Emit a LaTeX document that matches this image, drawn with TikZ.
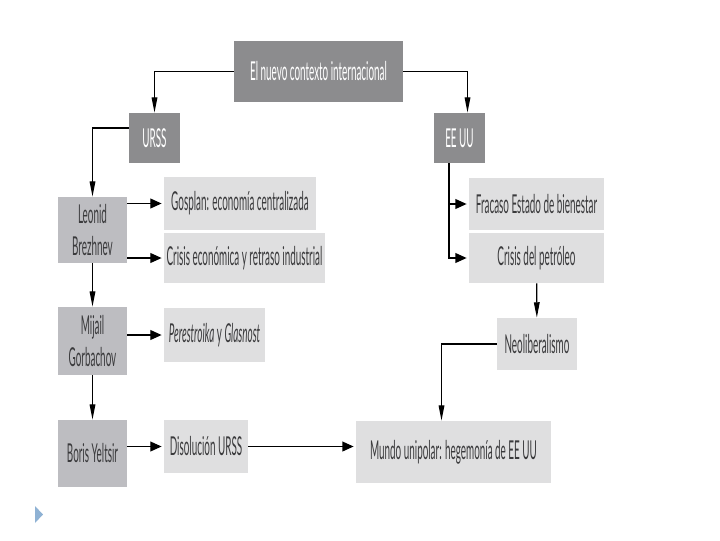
\documentclass[tikz,border=0pt]{standalone}
\usepackage{fontspec}
\setmainfont[FakeStretch=0.38]{Lato}
\usetikzlibrary{arrows.meta}

\definecolor{darkbox}{HTML}{8C8C8E}
\definecolor{midbox}{HTML}{BDBDC1}
\definecolor{lightbox}{HTML}{DFDFE0}
\definecolor{boxtext}{HTML}{3A3A3C}
\definecolor{bullet}{HTML}{8FB2D4}

\begin{document}
\begin{tikzpicture}[x=0.025cm, y=-0.025cm,
  font=\fontsize{18.5}{23.4}\selectfont,
  sz/.style 2 args={minimum width=#1*0.025cm, minimum height=#2*0.025cm, inner sep=0pt},
  head/.style={fill=darkbox, text=white},
  person/.style={fill=midbox, text=boxtext, align=center},
  fact/.style={fill=lightbox, text=boxtext},
  link/.style={line width=0.9pt, black},
  harr/.style={link, -{Triangle[length=8pt,width=7pt]}, shorten >=1.5pt},
  varr/.style={link, -{Triangle[length=11pt,width=4pt]}},
]
  \useasboundingbox (0,0) rectangle (720,540);

  % ── Top level ──────────────────────────────────────────────────────
  \node[head, sz={169}{61}] (context) at (318.5,71.5) {El nuevo contexto internacional};
  \node[head, sz={51}{50}]  (urss)    at (154.5,138)  {URSS};
  \node[head, sz={51}{50}]  (eeuu)    at (459.5,138)  {EE UU};

  \draw[varr] (context.west) -| (urss.north);
  \draw[varr] (context.east) -| ([xshift=0.2cm]eeuu.north);

  % ── URSS column: leaders ───────────────────────────────────────────
  \node[person, sz={69}{66}] (brezhnev)  at (92.5,230)   {Leonid\\Brezhnev};
  \node[person, sz={69}{68}] (gorbachov) at (92.5,341)   {Mijail\\Gorbachov};
  \node[person, sz={69}{67}] (yeltsin)   at (92.5,453.5) {Boris Yeltsir};

  \draw[varr] ([yshift=0.25cm]urss.west) -| (brezhnev.north);
  \draw[varr] (brezhnev) -- (gorbachov);
  \draw[varr] (gorbachov) -- (yeltsin);

  % what happened under each of them
  \node[fact, sz={152}{53}] (gosplan)  at (240,203.5)  {Gosplan: economía centralizada};
  \node[fact, sz={161}{50}] (crisis)   at (244.5,258)  {Crisis económica y retraso industrial};
  \node[fact, sz={101}{54}] (reforms)  at (214.5,335)  {\textit{Perestroika} y \textit{Glasnost}};
  \node[fact, sz={84}{53}]  (breakup)  at (206,446.5)  {Disolución URSS};

  \draw[harr] (brezhnev.east |- gosplan) -- (gosplan.west);
  \draw[harr] (brezhnev.east |- crisis) -- (crisis.west);
  \draw[harr] (gorbachov.east |- reforms) -- (reforms.west);
  \draw[harr] (yeltsin.east |- breakup) -- (breakup.west);

  % ── EE UU column ───────────────────────────────────────────────────
  \node[fact, sz={135}{52}] (welfare) at (536.5,204) {Fracaso Estado de bienestar};
  \node[fact, sz={135}{50}] (oil)     at (536.5,258) {Crisis del petróleo};
  \node[fact, sz={80}{52}]  (neolib)  at (537,344)   {Neoliberalismo};

  \draw[harr] ([xshift=-0.26cm]eeuu.south) |- (welfare.west);
  \draw[harr] ([xshift=-0.26cm]eeuu.south) |- (oil.west);
  \draw[varr] (oil) -- (neolib);

  % ── Outcome ────────────────────────────────────────────────────────
  \node[fact, sz={195}{62}] (unipolar) at (453.5,452) {Mundo unipolar: hegemonía de EE UU};

  \draw[harr] (breakup.east) -- (unipolar.west |- breakup.east);
  \draw[varr] (neolib.west) -| ([xshift=-0.3cm]unipolar.north);

  % slide bullet
  \fill[bullet] (35,506) -- (43,514.5) -- (35,523) -- cycle;

\end{tikzpicture}
\end{document}
